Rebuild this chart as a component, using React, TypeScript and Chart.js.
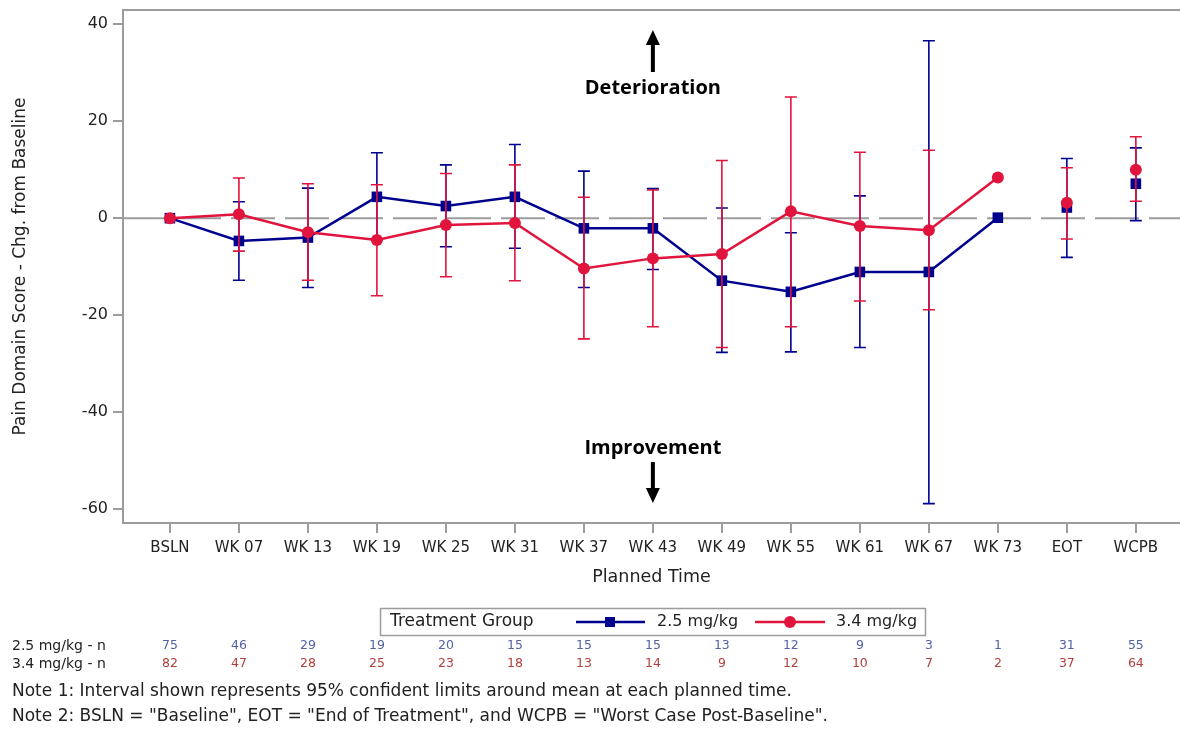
import React, { useEffect, useRef } from "react";
import { Chart, registerables } from "chart.js";

Chart.register(...registerables);

const categories = ["BSLN", "WK 07", "WK 13", "WK 19", "WK 25", "WK 31", "WK 37", "WK 43", "WK 49", "WK 55", "WK 61", "WK 67", "WK 73", "EOT", "WCPB"];
const yTickValues = [-60, -40, -20, 0, 20, 40];

const lowMeans = [0, -4.7, -4.0, 4.4, 2.5, 4.4, -2.1, -2.1, -12.9, -15.2, -11.1, -11.1, 0.1, 2.2, 7.1];
const lowUpper = [null, 3.4, 6.2, 13.5, 11.0, 15.2, 9.7, 6.1, 2.1, -3.0, 4.6, 36.6, null, 12.3, 14.5];
const lowLower = [null, -12.8, -14.3, -4.5, -5.9, -6.2, -14.3, -10.6, -27.7, -27.6, -26.7, -58.9, null, -8.1, -0.5];

const highMeans = [0, 0.8, -2.9, -4.5, -1.4, -1.0, -10.4, -8.3, -7.4, 1.4, -1.6, -2.5, 8.4, 3.2, 10.0];
const highUpper = [null, 8.3, 7.1, 6.9, 9.2, 11.0, 4.3, 5.8, 11.9, 25.0, 13.6, 14.0, null, 10.4, 16.8];
const highLower = [null, -6.8, -12.8, -16.0, -12.1, -12.9, -24.9, -22.4, -26.7, -22.4, -17.1, -18.9, null, -4.3, 3.5];

const lowN = [75, 46, 29, 19, 20, 15, 15, 15, 13, 12, 9, 3, 1, 31, 55];
const highN = [82, 47, 28, 25, 23, 18, 13, 14, 9, 12, 10, 7, 2, 37, 64];

const lowLabel = "2.5 mg/kg";
const highLabel = "3.4 mg/kg";
const notes = [
  'Note 1: Interval shown represents 95% confident limits around mean at each planned time.',
  'Note 2: BSLN = "Baseline", EOT = "End of Treatment", and WCPB = "Worst Case Post-Baseline".',
];

const BLUE = "#00008f";
const RED = "#e0143c";
const BLUE_N = "#5262a8";
const RED_N = "#b0403c";
const GRAY = "#9c9c9c";
const TEXT = "#222222";
const FONT = "'DejaVu Sans', 'Noto Sans', sans-serif";
const BOLD_FONT = "'Open Sans', 'Noto Sans', sans-serif";
const LAST_CONNECTED = 12;

function drawErrorBars(chart: any, lows: (number | null)[], highs: (number | null)[], color: string) {
  const { ctx } = chart;
  const xs = chart.scales.x;
  const ys = chart.scales.y;
  ctx.save();
  ctx.strokeStyle = color;
  ctx.lineWidth = 1.6;
  lows.forEach((lo, i) => {
    const hi = highs[i];
    if (lo == null || hi == null) return;
    const x = xs.getPixelForValue(i);
    const y1 = ys.getPixelForValue(lo);
    const y2 = ys.getPixelForValue(hi);
    ctx.beginPath();
    ctx.moveTo(x, y1);
    ctx.lineTo(x, y2);
    ctx.moveTo(x - 6, y1);
    ctx.lineTo(x + 6, y1);
    ctx.moveTo(x - 6, y2);
    ctx.lineTo(x + 6, y2);
    ctx.stroke();
  });
  ctx.restore();
}

const extrasPlugin = {
  id: "extras",
  beforeDatasetsDraw(chart: any) {
    const { ctx, chartArea } = chart;
    const y0 = chart.scales.y.getPixelForValue(0);
    ctx.save();
    ctx.strokeStyle = GRAY;
    ctx.lineWidth = 2;
    ctx.setLineDash([44, 10]);
    ctx.beginPath();
    ctx.moveTo(chartArea.left, y0);
    ctx.lineTo(chartArea.right, y0);
    ctx.stroke();
    ctx.restore();
  },
  beforeDatasetDraw(chart: any, args: any) {
    const ds = chart.data.datasets[args.index];
    if (ds.label === lowLabel) drawErrorBars(chart, lowLower, lowUpper, BLUE);
    else drawErrorBars(chart, highLower, highUpper, RED);
  },
  afterDraw(chart: any) {
    const { ctx, chartArea } = chart;
    const xs = chart.scales.x;
    ctx.save();
    // top frame
    ctx.strokeStyle = GRAY;
    ctx.lineWidth = 2;
    ctx.beginPath();
    ctx.moveTo(chartArea.left - 1, chartArea.top);
    ctx.lineTo(chartArea.right, chartArea.top);
    ctx.stroke();

    // annotations
    const ax = xs.getPixelForValue(7);
    ctx.fillStyle = "#000";
    ctx.font = `bold 20px ${BOLD_FONT}`;
    ctx.textAlign = "center";
    ctx.textBaseline = "middle";
    ctx.fillText("Deterioration", ax, 88);
    ctx.fillText("Improvement", ax, 448);
    // up arrow
    ctx.fillRect(ax - 2, 44, 4, 28);
    ctx.beginPath();
    ctx.moveTo(ax - 7, 45);
    ctx.lineTo(ax + 7, 45);
    ctx.lineTo(ax, 30);
    ctx.closePath();
    ctx.fill();
    // down arrow
    ctx.fillRect(ax - 2, 462, 4, 27);
    ctx.beginPath();
    ctx.moveTo(ax - 7, 488);
    ctx.lineTo(ax + 7, 488);
    ctx.lineTo(ax, 503);
    ctx.closePath();
    ctx.fill();

    // legend
    ctx.strokeStyle = GRAY;
    ctx.lineWidth = 1.5;
    ctx.strokeRect(380.5, 608.5, 545, 27);
    const ly = 622;
    ctx.font = `17px ${FONT}`;
    ctx.textAlign = "left";
    ctx.fillStyle = TEXT;
    ctx.fillText("Treatment Group", 390, ly);
    ctx.strokeStyle = BLUE;
    ctx.lineWidth = 2.5;
    ctx.beginPath();
    ctx.moveTo(576, ly);
    ctx.lineTo(645, ly);
    ctx.stroke();
    ctx.fillStyle = BLUE;
    ctx.fillRect(605, ly - 5, 10, 10);
    ctx.font = `16px ${FONT}`;
    ctx.fillStyle = TEXT;
    ctx.fillText(lowLabel, 657, ly);
    ctx.strokeStyle = RED;
    ctx.beginPath();
    ctx.moveTo(755, ly);
    ctx.lineTo(825, ly);
    ctx.stroke();
    ctx.fillStyle = RED;
    ctx.beginPath();
    ctx.arc(790, ly, 6, 0, Math.PI * 2);
    ctx.fill();
    ctx.fillStyle = TEXT;
    ctx.fillText(highLabel, 836, ly);

    // n table
    ctx.font = `14px ${FONT}`;
    ctx.fillStyle = TEXT;
    ctx.textAlign = "left";
    ctx.fillText(`${lowLabel} - n`, 12, 646);
    ctx.fillText(`${highLabel} - n`, 12, 664);
    ctx.font = `12.5px ${FONT}`;
    ctx.textAlign = "center";
    categories.forEach((_, i) => {
      const x = xs.getPixelForValue(i);
      ctx.fillStyle = BLUE_N;
      ctx.fillText(String(lowN[i]), x, 646);
      ctx.fillStyle = RED_N;
      ctx.fillText(String(highN[i]), x, 664);
    });

    // notes
    ctx.font = `17px ${FONT}`;
    ctx.fillStyle = TEXT;
    ctx.textAlign = "left";
    ctx.fillText(notes[0], 12, 692);
    ctx.fillText(notes[1], 12, 717);
    ctx.restore();
  },
};

function zeroPad(s: any) {
  s.paddingTop = 0;
  s.paddingBottom = 0;
  s.paddingLeft = 0;
  s.paddingRight = 0;
}

export default function App() {
  const canvasRef = useRef<HTMLCanvasElement | null>(null);

  useEffect(() => {
    const canvas = canvasRef.current;
    if (!canvas) return;
    const chart = new Chart(canvas, {
      type: "line",
      data: {
        datasets: [
          {
            label: lowLabel,
            data: lowMeans.map((y, i) => ({ x: i, y })),
            borderColor: BLUE,
            backgroundColor: BLUE,
            borderWidth: 2.5,
            pointStyle: "rect",
            pointRadius: 7.5,
            pointBorderWidth: 0,
            pointHoverRadius: 7.5,
            order: 2,
            segment: {
              borderColor: (c: any) => (c.p1DataIndex > LAST_CONNECTED ? "transparent" : BLUE),
            },
          } as any,
          {
            label: highLabel,
            data: highMeans.map((y, i) => ({ x: i, y })),
            borderColor: RED,
            backgroundColor: RED,
            borderWidth: 2.5,
            pointStyle: "circle",
            pointRadius: 6,
            pointBorderWidth: 0,
            pointHoverRadius: 6,
            order: 1,
            segment: {
              borderColor: (c: any) => (c.p1DataIndex > LAST_CONNECTED ? "transparent" : RED),
            },
          } as any,
        ],
      },
      options: {
        animation: false,
        responsive: false,
        maintainAspectRatio: false,
        events: [],
        layout: { autoPadding: false, padding: { left: 0, right: 0, top: 10, bottom: 138 } },
        plugins: { legend: { display: false }, tooltip: { enabled: false } },
        scales: {
          x: {
            type: "linear",
            min: -0.68,
            max: 14.64,
            afterBuildTicks: (s: any) => {
              s.ticks = categories.map((_, i) => ({ value: i }));
            },
            afterFit: (s: any) => {
              s.height = 70;
              zeroPad(s);
            },
            ticks: {
              callback: (v: any) => categories[v as number] ?? "",
              font: { family: FONT, size: 15 },
              color: TEXT,
              padding: 6,
              maxRotation: 0,
              autoSkip: false,
            },
            grid: { drawOnChartArea: false, drawTicks: true, tickLength: 10, color: GRAY, lineWidth: 2 },
            border: { color: GRAY, width: 2 },
            title: {
              display: true,
              text: "Planned Time",
              font: { family: FONT, size: 17.5 },
              color: TEXT,
              padding: { top: 4, bottom: 5 },
            },
          },
          y: {
            type: "linear",
            min: -62.9,
            max: 42.95,
            afterBuildTicks: (s: any) => {
              s.ticks = yTickValues.map((v) => ({ value: v }));
            },
            afterFit: (s: any) => {
              s.width = 123;
              zeroPad(s);
            },
            ticks: {
              font: { family: FONT, size: 16 },
              color: TEXT,
              padding: 5,
            },
            grid: { drawOnChartArea: false, drawTicks: true, tickLength: 10, color: GRAY, lineWidth: 2 },
            border: { color: GRAY, width: 2 },
            title: {
              display: true,
              text: "Pain Domain Score - Chg. from Baseline",
              font: { family: FONT, size: 17 },
              color: TEXT,
              padding: { top: 10, bottom: 0 },
            },
          },
        },
      },
      plugins: [extrasPlugin],
    });
    return () => chart.destroy();
  }, []);

  return (
    <div style={{ position: "absolute", left: 0, top: 0, width: 1180, height: 731, background: "#fff" }}>
      <canvas ref={canvasRef} width={1180} height={731} style={{ display: "block" }} />
    </div>
  );
}
